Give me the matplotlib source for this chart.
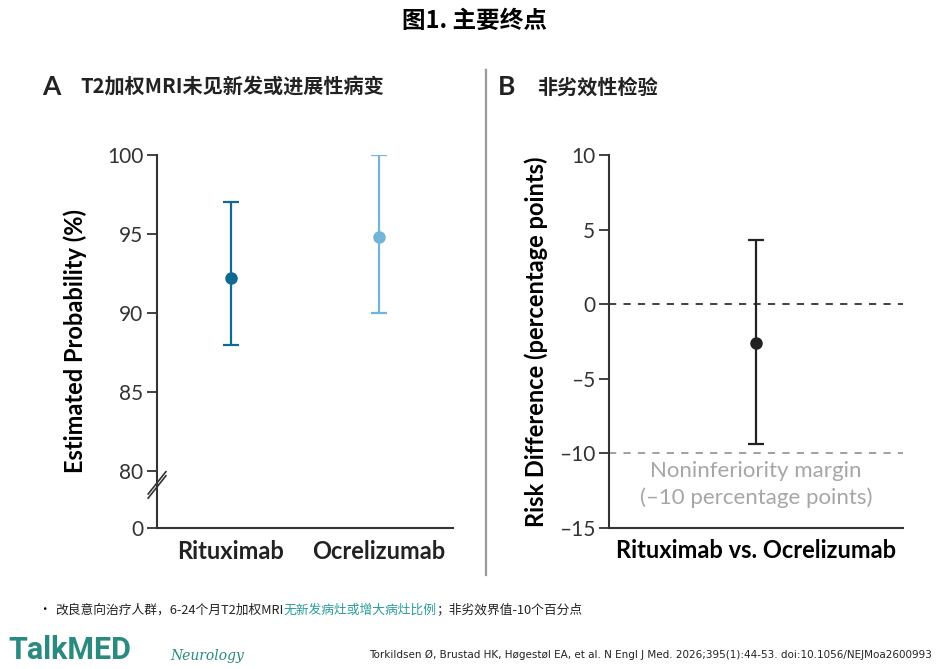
import matplotlib.pyplot as plt
from matplotlib.lines import Line2D

plt.rcParams['font.family'] = ['Lato', 'Noto Sans CJK SC', 'DejaVu Sans']

# panel A data
drugs = ['Rituximab', 'Ocrelizumab']
prob = [92.2, 94.8]
prob_lo = [88.0, 90.0]
prob_hi = [97.0, 100.0]
drug_colors = ['#0e6a93', '#72b5d8']
a_ticks = [80, 85, 90, 95, 100]

# panel B data
comparison = ['Rituximab vs. Ocrelizumab']
diff = [-2.6]
diff_lo = [-9.4]
diff_hi = [4.3]
b_ticks = [-15, -10, -5, 0, 5, 10]
margin = -10

axis_col = '#333333'
cjk = ['Noto Sans CJK SC', 'DejaVu Sans']

fig = plt.figure(figsize=(9.5, 6.69), dpi=100)

# ---- panel A (broken axis: 0 shown below 80)
axA = fig.add_axes([0.1653, 0.2108, 0.3116, 0.5575])
ybot = 80 - 57 / 15.8 * 1.0  # position used for the "0" tick
for i in range(len(drugs)):
    axA.errorbar(0.25 + 0.5 * i, prob[i],
                 yerr=[[prob[i] - prob_lo[i]], [prob_hi[i] - prob[i]]],
                 fmt='o', color=drug_colors[i], ms=8, elinewidth=1.6,
                 capsize=6, capthick=1.6)
axA.set_xlim(0, 1)
axA.set_ylim(ybot, 100)
axA.set_yticks([ybot] + a_ticks)
axA.set_yticklabels(['0'] + [str(t) for t in a_ticks])
axA.set_xticks([0.25, 0.75])
axA.set_xticklabels(drugs, fontweight='bold', fontsize=17)
axA.set_ylabel('Estimated Probability (%)', fontsize=17, fontweight='bold', labelpad=14)
# break marks
for dy in (0, 0.011):
    axA.add_line(Line2D([-0.03, 0.03], [0.08 + dy, 0.14 + dy], transform=axA.transAxes,
                        color=axis_col, lw=1.2, clip_on=False))

# ---- panel B
axB = fig.add_axes([0.641, 0.2108, 0.3095, 0.5575])
axB.axhline(0, color='#333333', ls=(0, (4, 4)), lw=1.3)
axB.axhline(margin, color='#999999', ls=(0, (4, 4)), lw=1.3)
axB.errorbar([0.5], diff, yerr=[[diff[0] - diff_lo[0]], [diff_hi[0] - diff[0]]],
             fmt='o', color='#222222', ms=8, elinewidth=1.6, capsize=6, capthick=1.6)
axB.text(0.5, -10.5, 'Noninferiority margin\n(\u201310 percentage points)', ha='center', va='top',
         color='#a6a6a6', fontsize=16, linespacing=1.4)
axB.set_xlim(0, 1)
axB.set_ylim(-15, 10)
axB.set_yticks(b_ticks)
axB.set_yticklabels([str(t).replace('-', '\u2013') for t in b_ticks])
axB.set_xticks([])
axB.set_xlabel(comparison[0], fontweight='bold', fontsize=17, labelpad=8)
axB.set_ylabel('Risk Difference (percentage points)', fontsize=17, fontweight='bold', labelpad=8)

for ax in (axA, axB):
    for s in ('top', 'right'):
        ax.spines[s].set_visible(False)
    for s in ('left', 'bottom'):
        ax.spines[s].set_color(axis_col)
        ax.spines[s].set_linewidth(1.5)
    ax.tick_params(axis='y', direction='out', length=7, width=1.3, colors=axis_col,
                   labelsize=15, pad=3)
    ax.tick_params(axis='x', length=0, pad=9, colors='#222222')

# separator line between panels
fig.add_artist(Line2D([486 / 950, 486 / 950], [1 - 70 / 669, 1 - 575 / 669],
                      color='#999999', lw=1.6))

# titles
fig.text(0.5, 1 - 21 / 669, '图1. 主要终点', ha='center', va='center', fontsize=17,
         fontweight='bold', family=cjk)
fig.text(42 / 950, 1 - 87 / 669, 'A', ha='left', va='center', fontsize=19, fontweight='bold',
         color='#222222')
fig.text(80 / 950, 1 - 87 / 669, 'T2加权MRI未见新发或进展性病变', ha='left', va='center',
         fontsize=14.5, fontweight='bold', family=cjk, color='#222222')
fig.text(498 / 950, 1 - 87 / 669, 'B', ha='left', va='center', fontsize=19, fontweight='bold',
         color='#222222')
fig.text(537 / 950, 1 - 87 / 669, '非劣效性检验', ha='left', va='center',
         fontsize=14.5, fontweight='bold', family=cjk, color='#222222')

# footnote, pieces chained one after another
fy = 1 - 609 / 669
fig.text(38 / 950, fy, '•', ha='left', va='center', fontsize=9, family=cjk)
t1 = fig.text(55 / 950, fy, '改良意向治疗人群，6-24个月T2加权MRI', ha='left', va='baseline',
              fontsize=9.2, family=cjk, color='#222222')
t2 = fig.text(0, 0, '无新发病灶或增大病灶比例', ha='left', va='baseline',
              fontsize=9.2, family=cjk, color='#2a9d9a')
t3 = fig.text(0, 0, '；非劣效界值-10个百分点', ha='left', va='baseline',
              fontsize=9.2, family=cjk, color='#222222')
t1.set_y(fy - 0.007)
r = fig.canvas.get_renderer()
bb1 = t1.get_window_extent(r)
t2.set_position((bb1.x1 / fig.bbox.width, t1.get_position()[1]))
bb2 = t2.get_window_extent(r)
t3.set_position((bb2.x1 / fig.bbox.width, t1.get_position()[1]))

# logo / citation
fig.text(8 / 950, 1 - 650 / 669, 'TalkMED', ha='left', va='center', fontsize=22,
         fontweight='bold', color='#2a8a80', family=['Roboto'], fontstretch='condensed')
fig.text(170 / 950, 1 - 656 / 669, 'Neurology', ha='left', va='center', fontsize=10,
         style='italic', color='#2a8a80', family=['DejaVu Serif'])
fig.text(932 / 950, 1 - 655 / 669,
         'Torkildsen Ø, Brustad HK, Høgestøl EA, et al. N Engl J Med. 2026;395(1):44-53. doi:10.1056/NEJMoa2600993',
         ha='right', va='center', fontsize=7.5, color='#222222', family=['Liberation Sans Narrow', 'DejaVu Sans'])

fig.savefig('out.png', dpi=100)
